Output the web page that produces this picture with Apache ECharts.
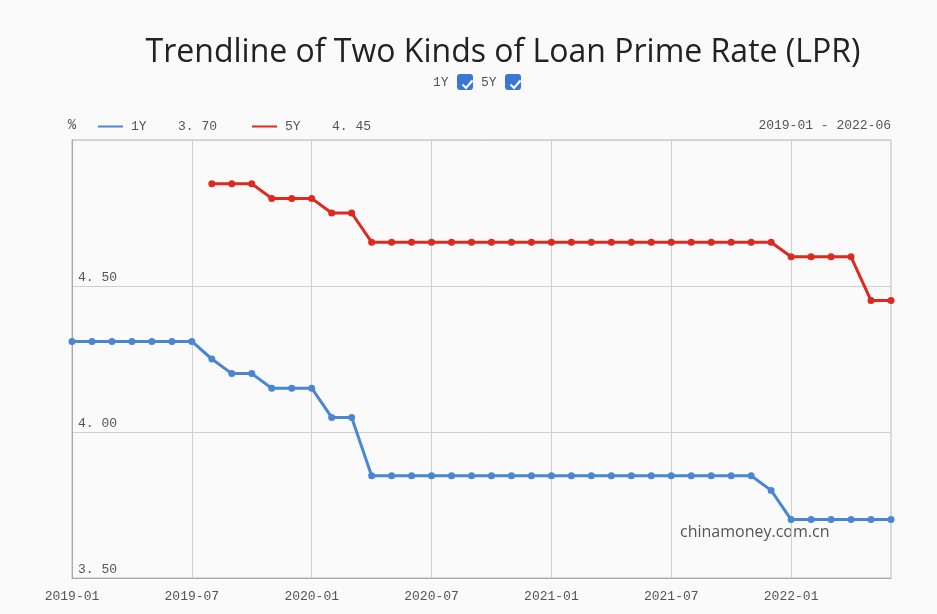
<!DOCTYPE html>
<html>
<head>
<meta charset="utf-8">
<script src="https://cdn.jsdelivr.net/npm/echarts@6/dist/echarts.min.js"></script>
<style>
  html, body { margin: 0; padding: 0; background: #fafafa; }
  #chart { width: 937px; height: 614px; }
</style>
</head>
<body>
<div id="chart"></div>
<script>
// monthly LPR, 2019-01 .. 2022-06
const months = [
    '2019-01','2019-02','2019-03','2019-04','2019-05','2019-06','2019-07','2019-08','2019-09','2019-10','2019-11','2019-12',
    '2020-01','2020-02','2020-03','2020-04','2020-05','2020-06','2020-07','2020-08','2020-09','2020-10','2020-11','2020-12',
    '2021-01','2021-02','2021-03','2021-04','2021-05','2021-06','2021-07','2021-08','2021-09','2021-10','2021-11','2021-12',
    '2022-01','2022-02','2022-03','2022-04','2022-05','2022-06'
];
const rate1Y = [
    4.31, 4.31, 4.31, 4.31, 4.31, 4.31, 4.31, 4.25, 4.20, 4.20, 4.15, 4.15,
    4.15, 4.05, 4.05, 3.85, 3.85, 3.85, 3.85, 3.85, 3.85, 3.85, 3.85, 3.85,
    3.85, 3.85, 3.85, 3.85, 3.85, 3.85, 3.85, 3.85, 3.85, 3.85, 3.85, 3.80,
    3.70, 3.70, 3.70, 3.70, 3.70, 3.70
];
const rate5Y = [
    null, null, null, null, null, null, null, 4.85, 4.85, 4.85, 4.80, 4.80,
    4.80, 4.75, 4.75, 4.65, 4.65, 4.65, 4.65, 4.65, 4.65, 4.65, 4.65, 4.65,
    4.65, 4.65, 4.65, 4.65, 4.65, 4.65, 4.65, 4.65, 4.65, 4.65, 4.65, 4.65,
    4.60, 4.60, 4.60, 4.60, 4.45, 4.45
];
const yTicks = { min: 3.5, max: 5.0, step: 0.5 };

const BLUE = '#4a86d2';
const RED = '#dc2a1e';
const MONO = '"Liberation Mono", "DejaVu Sans Mono", monospace';
const SANS = '"Open Sans", "Noto Sans", sans-serif';

const fmt = v => v.toFixed(2).replace('.', '. ');
const lastOf = arr => arr[arr.length - 1];

const chart = echarts.init(document.getElementById('chart'));

// checkbox: blue rounded square + white tick
function checkbox(x, y) {
    return [
        { type: 'rect', left: x, top: y, shape: { width: 16, height: 16, r: 3 }, style: { fill: '#3b78d6' } },
        { type: 'polyline', left: x + 3, top: y + 4,
          shape: { points: [[0, 4], [3.5, 7.5], [10, 0]] },
          style: { stroke: '#fff', lineWidth: 2.2, fill: null } }
    ];
}

chart.setOption({
    backgroundColor: '#fafafa',
    title: {
        text: 'Trendline of Two Kinds of Loan Prime Rate (LPR)',
        left: 498, textAlign: 'center', top: 32,
        textStyle: { fontFamily: SANS, fontSize: 32, fontWeight: 'normal', color: '#222' }
    },
    legend: {
        data: ['1Y', '5Y'],
        left: 98, top: 120, padding: 0,
        itemWidth: 25, itemHeight: 2, itemGap: 35,
        icon: 'rect',
        formatter: name => {
            const v = lastOf(name === '1Y' ? rate1Y : rate5Y);
            return '{n|' + name + '}{v|' + fmt(v) + '}';
        },
        textStyle: {
            fontFamily: MONO, fontSize: 13, color: '#555',
            rich: {
                n: { width: 47, padding: [0, 0, 0, 3], fontFamily: MONO, fontSize: 13, color: '#555' },
                v: { fontFamily: MONO, fontSize: 13, color: '#555' }
            }
        }
    },
    graphic: [
        { type: 'text', left: 433, top: 76,
          style: { text: '1Y', font: '13px ' + MONO, fill: '#555' } },
        ...checkbox(457, 74),
        { type: 'text', left: 481, top: 76,
          style: { text: '5Y', font: '13px ' + MONO, fill: '#555' } },
        ...checkbox(505, 74),
        { type: 'text', right: 46, top: 119,
          style: { text: months[0] + ' - ' + lastOf(months), font: '13px ' + MONO, fill: '#555' } },
        { type: 'text', left: 680, top: 524,
          style: { text: 'chinamoney.com.cn', font: '16px ' + SANS, fill: '#555' } }
    ],
    grid: {
        left: 72, right: 46, top: 140, bottom: 36,
        show: true, borderColor: '#b8b8b8', borderWidth: 1
    },
    xAxis: {
        type: 'category',
        data: months,
        boundaryGap: false,
        axisLine: { lineStyle: { color: '#aaa' } },
        axisTick: { show: false },
        axisLabel: { interval: 5, color: '#555', fontFamily: MONO, fontSize: 13, margin: 12 },
        splitLine: { show: true, interval: 5, lineStyle: { color: '#cfcfcf' } }
    },
    yAxis: {
        type: 'value',
        min: yTicks.min, max: yTicks.max, interval: yTicks.step,
        name: '%', nameLocation: 'end', nameGap: 8,
        nameTextStyle: { color: '#555', fontFamily: MONO, fontSize: 14, align: 'center' },
        axisLine: { show: true, lineStyle: { color: '#aaa' } },
        axisTick: { show: false },
        axisLabel: {
            inside: true, showMaxLabel: false, verticalAlign: 'bottom',
            margin: 6, padding: [0, 0, 2, 0],
            color: '#555', fontFamily: MONO, fontSize: 13,
            formatter: fmt
        },
        splitLine: { lineStyle: { color: '#cfcfcf' } }
    },
    series: [
        {
            name: '1Y', type: 'line', data: rate1Y,
            symbol: 'circle', symbolSize: 7,
            lineStyle: { width: 3, color: BLUE },
            itemStyle: { color: BLUE },
            z: 3
        },
        {
            name: '5Y', type: 'line', data: rate5Y,
            symbol: 'circle', symbolSize: 7,
            lineStyle: { width: 3, color: RED },
            itemStyle: { color: RED },
            z: 3
        }
    ],
    animation: false
});
</script>
</body>
</html>
